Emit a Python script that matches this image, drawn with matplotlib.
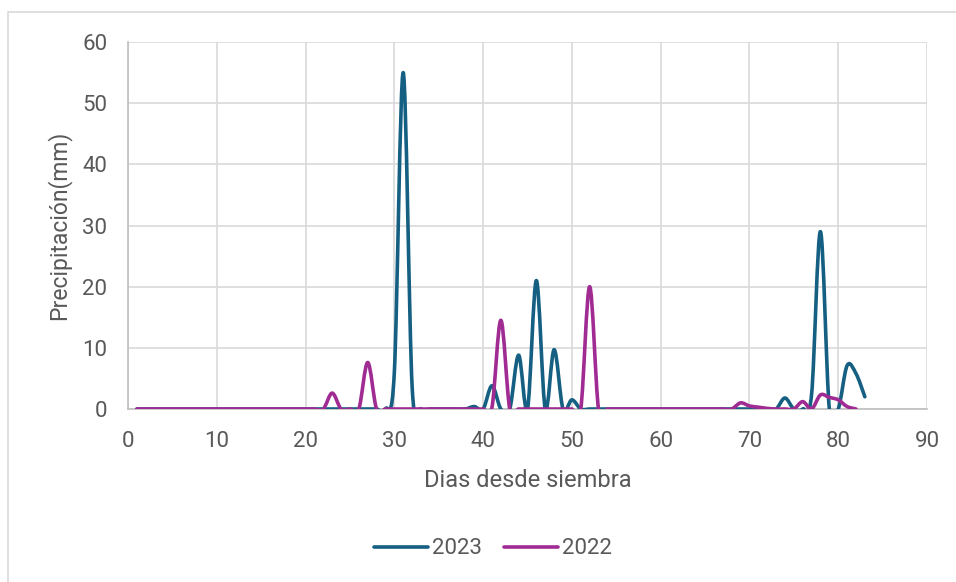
import matplotlib
matplotlib.use("Agg")
import matplotlib.pyplot as plt
from matplotlib.path import Path
from matplotlib.patches import PathPatch, Rectangle
from matplotlib.lines import Line2D

plt.rcParams['font.family'] = ['Roboto', 'DejaVu Sans']

# days since sowing
days_2023 = list(range(1, 84))
days_2022 = list(range(1, 83))

# rainfall (mm) per day, 0 unless listed
rain_2023_events = {30: 6.0, 31: 55.0, 32: 3.8, 39: 0.4, 41: 3.8, 44: 8.8, 46: 21.0,
                    48: 9.7, 50: 1.5, 74: 1.8, 77: 2.4, 78: 29.0, 81: 7.1, 82: 5.8, 83: 2.0}
rain_2022_events = {23: 2.6, 27: 7.6, 41: 0.3, 42: 14.5, 52: 20.0, 69: 1.0, 70: 0.5,
                    71: 0.3, 72: 0.1, 76: 1.2, 78: 2.3, 79: 1.9, 80: 1.5, 81: 0.4}

rain_2023 = [rain_2023_events.get(d, 0.0) for d in days_2023]
rain_2022 = [rain_2022_events.get(d, 0.0) for d in days_2022]

C2023 = '#156082'
C2022 = '#A02B93'
TXT = '#595959'


def smooth_path(xs, ys):
    # Excel-like smoothed line: cubic bezier through every point
    n = len(xs)
    verts = [(xs[0], ys[0])]
    codes = [Path.MOVETO]
    for i in range(n - 1):
        x0, y0 = xs[max(i - 1, 0)], ys[max(i - 1, 0)]
        x1, y1 = xs[i], ys[i]
        x2, y2 = xs[i + 1], ys[i + 1]
        x3, y3 = xs[min(i + 2, n - 1)], ys[min(i + 2, n - 1)]
        c1 = (x1 + (x2 - x0) / 6.0, y1 + (y2 - y0) / 6.0)
        c2 = (x2 - (x3 - x1) / 6.0, y2 - (y3 - y1) / 6.0)
        verts += [c1, c2, (x2, y2)]
        codes += [Path.CURVE4] * 3
    return Path(verts, codes)


fig = plt.figure(figsize=(9.56, 5.82), dpi=100)
ax = fig.add_axes([128 / 956, 1 - 409 / 582, (927 - 128) / 956, (409 - 42) / 582])

for xs, ys, col in [(days_2023, rain_2023, C2023), (days_2022, rain_2022, C2022)]:
    ax.add_patch(PathPatch(smooth_path(xs, ys), facecolor='none', edgecolor=col,
                           lw=2.6, capstyle='round', joinstyle='round', zorder=3))

ax.set_xlim(0, 90)
ax.set_ylim(0, 60)
ax.set_xticks(range(0, 91, 10))
ax.set_yticks(range(0, 61, 10))
ax.grid(True, color='#D9D9D9', lw=1.2)
ax.set_axisbelow(True)
for s in ['top', 'right']:
    ax.spines[s].set_visible(False)
ax.spines['left'].set_color('#BFBFBF')
ax.spines['bottom'].set_color('#BFBFBF')
ax.spines['left'].set_linewidth(1.2)
ax.spines['bottom'].set_linewidth(1.2)
ax.tick_params(length=0, labelsize=16, labelcolor=TXT)
ax.tick_params(axis='y', pad=15)
ax.tick_params(axis='x', pad=16)

ax.set_xlabel('Dias desde siembra', fontsize=17, color=TXT, labelpad=12)
ax.set_ylabel('Precipitación(mm)', fontsize=16.5, color=TXT, labelpad=8)

handles = [Line2D([], [], color=C2023, lw=2.6, solid_capstyle='round'),
           Line2D([], [], color=C2022, lw=2.6, solid_capstyle='round')]
fig.legend(handles, ['2023', '2022'], loc='center', bbox_to_anchor=(0.516, 1 - 549 / 582),
           ncol=2, frameon=False, fontsize=16, labelcolor=TXT, handlelength=2.4,
           handletextpad=0.2, columnspacing=1.0)

fig.patches.append(Rectangle((8 / 956, -0.1), 1.2, 1 - 12 / 582 + 0.1, transform=fig.transFigure,
                             facecolor='none', edgecolor='#D9D9D9', lw=1.2))

fig.savefig('out.png', dpi=100)
